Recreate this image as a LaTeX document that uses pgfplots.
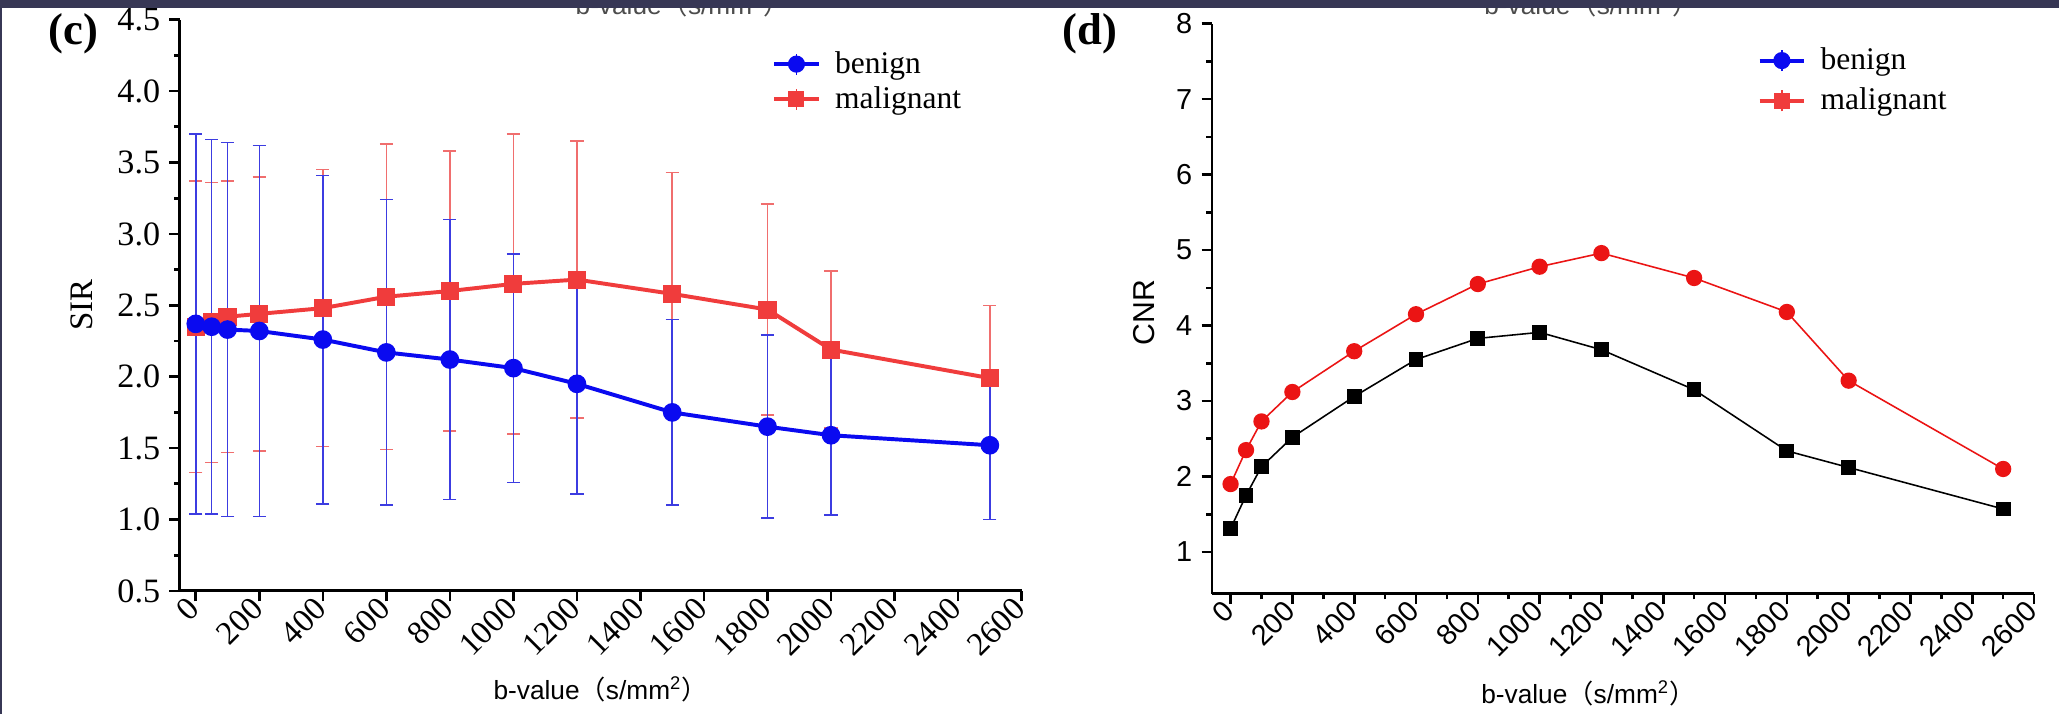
\documentclass[border=0pt]{standalone}
\usepackage{fontspec}
\setmainfont{Liberation Serif}
\newfontfamily\arial{Liberation Sans}
\newfontfamily\cjk{Noto Sans CJK SC}
\usepackage{pgfplots}
\pgfplotsset{compat=1.18}

\definecolor{frame}{RGB}{55,55,85}
\definecolor{bline}{RGB}{10,10,240}
\definecolor{berr}{RGB}{60,60,225}
\definecolor{rline}{RGB}{240,60,60}
\definecolor{rerr}{RGB}{240,110,110}
\definecolor{dred}{RGB}{235,20,20}

\newcommand{\bval}{{\arial b-value}{\cjk （}{\arial s/mm\textsuperscript{2}}{\cjk ）}}

\pgfplotsset{
  panel/.style={
    scale only axis, anchor=south west,
    axis x line*=bottom, axis y line*=left,
    axis line style={-, line width=1.1pt, black},
    tick align=outside, major tick length=4pt, minor tick length=2.2pt,
    every tick/.style={line width=1pt, black},
    xmax=2600, xtick={0,200,...,2600},
    xticklabel style={rotate=45, anchor=east, inner sep=1pt,
      /pgf/number format/1000 sep={}},
    /pgf/number format/assume math mode=true,
    clip=false,
    legend cell align=left,
    legend style={draw=none, fill=none, inner sep=0pt, column sep=5pt,
      nodes={inner sep=0.5pt},
      font=\fontsize{12}{12}\selectfont, anchor=north west},
    legend image code/.code={
      \draw[#1, mark=none] (0pt,0pt) -- (17pt,0pt);
      \draw[#1, mark=none, line width=0.7pt] (8.5pt,-4pt) -- (8.5pt,4pt);
      \draw[#1] plot coordinates {(8.5pt,0pt)};
    },
  },
}

\begin{document}
\begin{tikzpicture}
\useasboundingbox (0,0) rectangle (784pt,272pt);
\fill[white] (0,0) rectangle (784pt,272pt);

% panel (c): SIR with error bars
\begin{axis}[panel,
  at={(68.5pt,47pt)}, width=320.5pt, height=217.5pt,
  xmin=-50, ymin=0.5, ymax=4.5,
  ytick={0.5,1,...,4.5}, minor y tick num=1,
  yticklabel style={font=\fontsize{13}{13}\selectfont,
    /pgf/number format/.cd, fixed, fixed zerofill, precision=1},
  xticklabel style={font=\fontsize{12.5}{12.5}\selectfont},
  xlabel={\bval}, xlabel style={font=\fontsize{10}{10}\selectfont,
    at={(axis description cs:0.5,-0.172)}, anchor=center},
  ylabel={SIR}, ylabel style={font=\fontsize{12.5}{12.5}\selectfont,
    at={(axis description cs:-0.117,0.5)}, anchor=center},
  legend style={at={(axis description cs:0.703,0.948)}, row sep=2.5pt},
]
\addlegendimage{bline, line width=1.5pt, mark=*, mark size=2.5pt}
\addlegendentry{benign}
\addlegendimage{rline, line width=1.5pt, mark=square*, mark size=2.3pt}
\addlegendentry{malignant}

\addplot[rline, line width=1.5pt, mark=square*, mark size=2.7pt,
  error bars/.cd, y dir=both, y explicit,
  error bar style={rerr, line width=0.6pt},
  error mark options={rotate=90, rerr, line width=0.6pt, mark size=2.5pt}]
  coordinates {
  (0,2.35) +- (0,1.02)
  (50,2.38) +- (0,0.98)
  (100,2.42) +- (0,0.95)
  (200,2.44) +- (0,0.96)
  (400,2.48) +- (0,0.97)
  (600,2.56) +- (0,1.07)
  (800,2.60) +- (0,0.98)
  (1000,2.65) +- (0,1.05)
  (1200,2.68) +- (0,0.97)
  (1500,2.58) +- (0,0.85)
  (1800,2.47) +- (0,0.74)
  (2000,2.19) +- (0,0.55)
  (2500,1.99) +- (0,0.51)
  };
\addplot[bline, line width=1.5pt, mark=*, mark size=2.8pt,
  error bars/.cd, y dir=both, y explicit,
  error bar style={berr, line width=0.6pt},
  error mark options={rotate=90, berr, line width=0.6pt, mark size=2.5pt}]
  coordinates {
  (0,2.37) +- (0,1.33)
  (50,2.35) +- (0,1.31)
  (100,2.33) +- (0,1.31)
  (200,2.32) +- (0,1.30)
  (400,2.26) +- (0,1.15)
  (600,2.17) +- (0,1.07)
  (800,2.12) +- (0,0.98)
  (1000,2.06) +- (0,0.80)
  (1200,1.95) +- (0,0.77)
  (1500,1.75) +- (0,0.65)
  (1800,1.65) +- (0,0.64)
  (2000,1.59) +- (0,0.56)
  (2500,1.52) +- (0,0.52)
  };
\end{axis}

% panel (d): CNR
\begin{axis}[panel,
  at={(461.5pt,46pt)}, width=313pt, height=217pt,
  xmin=-60, ymin=0.45, ymax=8,
  ytick={1,...,8}, minor y tick num=1, minor x tick num=1,
  ticklabel style={font=\arial\fontsize{11}{11}\selectfont},
  xlabel={\bval}, xlabel style={font=\fontsize{10}{10}\selectfont,
    at={(axis description cs:0.458,-0.175)}, anchor=center},
  ylabel={\arial CNR}, ylabel style={font=\fontsize{11.5}{11.5}\selectfont,
    at={(axis description cs:-0.083,0.493)}, anchor=center},
  legend style={at={(axis description cs:0.663,0.961)}, row sep=4.5pt},
]
\addlegendimage{bline, line width=1.5pt, mark=*, mark size=2.5pt}
\addlegendentry{benign}
\addlegendimage{rline, line width=1.5pt, mark=square*, mark size=2.3pt}
\addlegendentry{malignant}

\addplot[black, line width=0.6pt, mark=square*, mark size=2.5pt]
  coordinates {
  (0,1.31) (50,1.75) (100,2.13) (200,2.52) (400,3.06) (600,3.55)
  (800,3.83) (1000,3.91) (1200,3.68) (1500,3.15) (1800,2.34)
  (2000,2.12) (2500,1.57)
  };
\addplot[dred, line width=0.6pt, mark=*, mark size=2.8pt]
  coordinates {
  (0,1.90) (50,2.35) (100,2.73) (200,3.12) (400,3.66) (600,4.15)
  (800,4.55) (1000,4.78) (1200,4.96) (1500,4.63) (1800,4.18)
  (2000,3.27) (2500,2.10)
  };
\end{axis}

% panel letters and the clipped title at the top
\node[font=\bfseries\fontsize{17}{17}\selectfont] at (28pt,259pt) {(c)};
\node[font=\bfseries\fontsize{17}{17}\selectfont] at (415pt,259pt) {(d)};
\node[anchor=base, text=black!70, font=\fontsize{10}{10}\selectfont] at (260pt,266.5pt) {\bval};
\node[anchor=base, text=black!70, font=\fontsize{10}{10}\selectfont] at (606pt,266.5pt) {\bval};
\fill[frame] (0,268.8pt) rectangle (784pt,272pt);
\fill[frame] (0,0) rectangle (0.8pt,272pt);
\end{tikzpicture}
\end{document}
